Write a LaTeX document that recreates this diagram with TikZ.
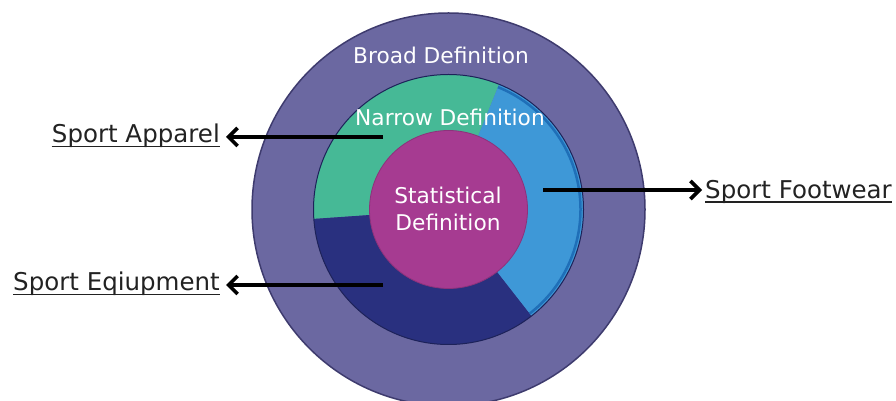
\documentclass[tikz,border=0pt]{standalone}
\usepackage{fontspec}
\setmainfont{DejaVu Sans}
\usetikzlibrary{arrows.meta}
\definecolor{outerc}{HTML}{6B68A1}
\definecolor{outeredge}{HTML}{3E3B6E}
\definecolor{greenc}{HTML}{46B996}
\definecolor{lblue}{HTML}{3E98D7}
\definecolor{lbedge}{HTML}{1F6FB8}
\definecolor{dblue}{HTML}{29307F}
\definecolor{magc}{HTML}{A63B91}
\definecolor{labc}{HTML}{222222}
\tikzset{
  intext/.style={text=white, font=\fontsize{21.7}{27}\selectfont, inner sep=0pt, align=center},
  labtext/.style={text=labc, font=\fontsize{24.5}{29}\selectfont, inner sep=0pt},
  arr/.style={line width=3.3pt, -{Straight Barb[length=9pt,width=18pt,line width=3.6pt]}},
  uline/.style={labc, line width=1.7pt},
}
\begin{document}
\begin{tikzpicture}[x=1pt,y=1pt]
\useasboundingbox (0,0) rectangle (896,401);
\clip (0,0) rectangle (896,401);
\coordinate (c) at (448.5,191.5);
% outer disc
\fill[outerc, draw=outeredge, line width=1.5pt] (c) circle[radius=196.5];
% donut segments
\fill[greenc] (c) -- ++(68:135) arc[start angle=68, end angle=184, radius=135] -- cycle;
\fill[dblue] (c) -- ++(184:135) arc[start angle=184, end angle=308, radius=135] -- cycle;
\fill[lblue] (c) -- ++(308:135) arc[start angle=308, end angle=428, radius=135] -- cycle;
\draw[lbedge, line width=2.5pt] (c) ++(308:132) arc[start angle=308, end angle=428, radius=132];
\draw[dblue!70!black, line width=1pt] (c) circle[radius=135];
% inner disc
\fill[magc] (c) circle[radius=79];
\draw[magc!85!black, line width=0.8pt] (c) circle[radius=79];
% texts
\node[intext] (broad) at (441,346) {Broad Definition};
\node[intext] (narrow) at (450,284) {Narrow Definition};
\node[intext] (stat) at (448,192.5) {Statistical\\Definition};
% labels
\node[labtext, anchor=base east] (app) at (220,258) {Sport Apparel};
\node[labtext, anchor=base east] (equ) at (220,110) {Sport Eqiupment};
\node[labtext, anchor=base west] (foot) at (705,202.5) {Sport Footwear};
\draw[uline] ([yshift=-3.4pt]app.base west) -- ([yshift=-3.4pt]app.base east);
\draw[uline] ([yshift=-3.4pt]equ.base west) -- ([yshift=-3.4pt]equ.base east);
\draw[uline] ([yshift=-3.4pt]foot.base west) -- ([yshift=-3.4pt]foot.base east);
% connectors
\coordinate (sa) at (383,264);
\coordinate (se) at (383,116);
\coordinate (sf) at (543,211);
\draw[arr] (sa) -- ([xshift=6pt]sa -| app.east);
\draw[arr] (se) -- ([xshift=6pt]se -| equ.east);
\draw[arr] (sf) -- ([xshift=-3pt]sf -| foot.west);
\end{tikzpicture}
\end{document}
